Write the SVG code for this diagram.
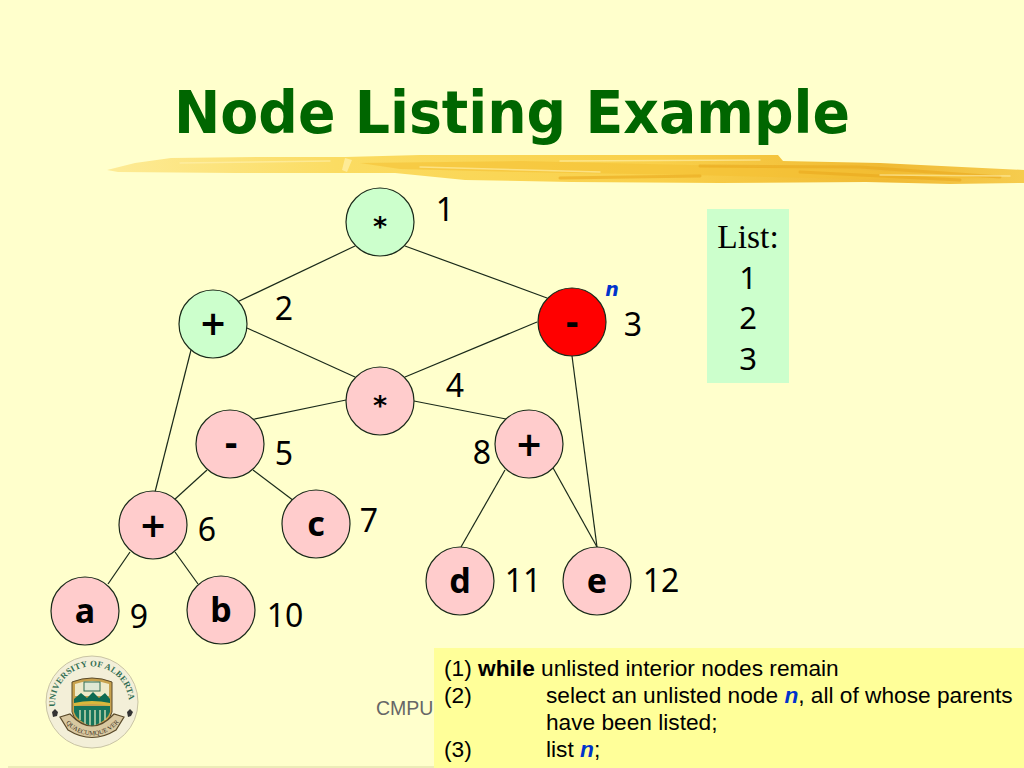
<svg xmlns="http://www.w3.org/2000/svg" xmlns:xlink="http://www.w3.org/1999/xlink" width="1024" height="768" viewBox="0 0 1024 768">
<style>
.n{stroke:#1a2a1a;stroke-width:1.2}
.g{fill:#ccffcc}.p{fill:#ffcccc}.r{fill:#ff0000}
.op{font-family:"Noto Sans",sans-serif;font-weight:700;font-size:34px;text-anchor:middle;fill:#000}
.sy{font-family:"DejaVu Sans",sans-serif;font-weight:700;font-size:33px;text-anchor:middle;fill:#000}
.st{font-family:"DejaVu Sans",sans-serif;font-weight:700;font-size:27px;text-anchor:middle;fill:#000}
.num{font-family:"Noto Sans",sans-serif;font-size:32px;text-anchor:middle;fill:#000}
.c line{stroke:#1a2a1a;stroke-width:1.2}
.t{font-family:"Liberation Sans",sans-serif;font-size:22.7px;fill:#000}
.blue{fill:#0033cc;font-weight:700;font-style:italic}
.l{font-family:"Liberation Serif",serif;font-size:33.5px;text-anchor:middle;fill:#000}
.ln{font-family:"Noto Sans",sans-serif;font-size:31px;text-anchor:middle;fill:#000}
.s{fill:none;stroke-linecap:round}
</style>
<defs>
<linearGradient id="br" x1="0" x2="1" y1="0" y2="0">
<stop offset="0" stop-color="#fdeb96"/><stop offset="0.25" stop-color="#fbdc62"/><stop offset="0.6" stop-color="#f9d04a"/><stop offset="0.85" stop-color="#f0ba34"/><stop offset="1" stop-color="#f6cc4e"/>
</linearGradient>
<path id="arcTop" d="M56 712 A37 37 0 1 1 128 712"/>
<path id="arcBot" d="M65 722 A34 34 0 0 0 119 722"/>
</defs>
<rect width="1024" height="768" fill="#ffffcc"/>
<line x1="8" y1="767" x2="1024" y2="767" stroke="#e6e6b0" stroke-width="1.5"/>

<text x="512" y="133" font-family="DejaVu Sans,sans-serif" font-weight="700" font-size="58" text-anchor="middle" fill="#006600" textLength="676" lengthAdjust="spacingAndGlyphs">Node Listing Example</text>

<g id="brush">
<path fill="url(#br)" d="M107 170 L135 163 L171 158 L260 157 L345 157 L420 155 L512 155 L640 155 L778 155 L783 161 L880 163 L1024 170 L1024 183 L950 184 L866 182 L720 183 L571 182 L465 180 L395 173 L235 173 L118 172 Z"/>
<path fill="#fff0a8" opacity="0.75" d="M345 158 L352 160 L347 172 L342 170 Z"/>
<path fill="#f4bf32" opacity="0.55" d="M360 163 L520 161 L690 165 L860 170 L1000 178 L860 179 L690 175 L520 172 L400 169 Z"/>
<path class="s" stroke="#e9a91e" stroke-width="3" opacity="0.6" d="M700 166 L860 167 L1000 177 M560 178 L700 176 M800 172 L960 180"/>
<path class="s" stroke="#fff2b0" stroke-width="1.4" opacity="0.6" d="M180 163 L330 161 M420 167 L600 172 M560 161 L760 160 M880 175 L1010 176"/>
</g>

<g id="connectors" class="c">
<line x1="355" y1="246" x2="235" y2="303"/>
<line x1="405" y1="246" x2="547" y2="298"/>
<line x1="247" y1="328" x2="355" y2="377"/>
<line x1="537" y1="322" x2="405" y2="377"/>
<line x1="572" y1="356" x2="597" y2="547"/>
<line x1="191" y1="350" x2="155" y2="492"/>
<line x1="346" y1="400" x2="250" y2="420"/>
<line x1="414" y1="401" x2="506" y2="419"/>
<line x1="207" y1="470" x2="174" y2="500"/>
<line x1="253" y1="470" x2="298" y2="504"/>
<line x1="505" y1="470" x2="461" y2="547"/>
<line x1="552" y1="466" x2="597" y2="547"/>
<line x1="130" y1="552" x2="108" y2="584"/>
<line x1="175" y1="552" x2="198" y2="584"/>
</g>

<g id="node-1"><circle class="n g" cx="380" cy="222" r="34"/><text class="st" x="380" y="236">*</text></g>
<g id="node-2"><circle class="n g" cx="213" cy="324" r="34"/><text class="sy" x="213" y="335">+</text></g>
<g id="node-3"><circle class="n r" cx="572" cy="322" r="34"/><text class="sy" x="572" y="334">-</text></g>
<g id="node-4"><circle class="n p" cx="380" cy="401" r="34"/><text class="st" x="380" y="415">*</text></g>
<g id="node-5"><circle class="n p" cx="230" cy="444" r="34"/><text class="sy" x="231" y="455">-</text></g>
<g id="node-8"><circle class="n p" cx="529" cy="444" r="34"/><text class="sy" x="529" y="456">+</text></g>
<g id="node-6"><circle class="n p" cx="153" cy="525" r="34"/><text class="sy" x="153" y="537">+</text></g>
<g id="node-7"><circle class="n p" cx="316" cy="524" r="34"/><text class="op" x="316" y="536">c</text></g>
<g id="node-9"><circle class="n p" cx="85" cy="611" r="34"/><text class="op" x="85" y="623">a</text></g>
<g id="node-10"><circle class="n p" cx="221" cy="610" r="34"/><text class="op" x="221" y="622">b</text></g>
<g id="node-11"><circle class="n p" cx="460" cy="581" r="34"/><text class="op" x="460" y="593">d</text></g>
<g id="node-12"><circle class="n p" cx="597" cy="581" r="34"/><text class="op" x="597" y="593">e</text></g>

<g id="numbers">
<text class="num" x="445" y="221">1</text>
<text class="num" x="284" y="320">2</text>
<text class="num" x="633" y="336">3</text>
<text class="num" x="455" y="397">4</text>
<text class="num" x="284" y="465">5</text>
<text class="num" x="207" y="541">6</text>
<text class="num" x="369" y="532">7</text>
<text class="num" x="482" y="464">8</text>
<text class="num" x="139" y="628">9</text>
<text class="num" x="285" y="627">10</text>
<text class="num" x="523" y="592">11</text>
<text class="num" x="661" y="592">12</text>
<text x="612" y="296" font-family="DejaVu Sans,sans-serif" font-size="19" font-weight="700" font-style="italic" fill="#0033cc" text-anchor="middle">n</text>
</g>

<g id="list">
<rect x="707" y="209" width="82" height="174" fill="#ccffcc"/>
<text class="l" x="748" y="248">List:</text>
<text class="ln" x="748" y="289">1</text>
<text class="ln" x="748" y="329">2</text>
<text class="ln" x="748" y="370">3</text>
</g>

<g id="logo">
<circle cx="92" cy="702" r="46" fill="#f3efd8" stroke="#c9c4a4"/>
<text font-family="Liberation Serif,serif" font-size="8.6" font-weight="700" fill="#2f6d52" letter-spacing="0.3"><textPath xlink:href="#arcTop" startOffset="4%">UNIVERSITY OF ALBERTA</textPath></text>
<path d="M72 682 Q92 674 112 682 L112 712 Q110 722 92 729 Q74 722 72 712 Z" fill="#c8a24e" stroke="#5a4a2a"/>
<path d="M75 684 Q92 678 109 684 L109 696 L75 696 Z" fill="#eee9c8"/>
<rect x="84" y="682" width="16" height="9" fill="#dfe8d4" stroke="#2f6d52"/>
<path d="M74 699 L81 693 L87 698 L93 692 L99 698 L105 693 L110 699 L110 703 L74 703 Z" fill="#0e6a52"/>
<path d="M74 703 Q92 699 110 703 L110 706 Q92 702 74 706 Z" fill="#d8b83c"/>
<path d="M74 706 L110 706 L110 712 Q108 720 92 727 Q76 720 74 712 Z" fill="#17745a"/>
<path d="M80 710 V720 M85 710 V724 M90 710 V726 M95 710 V726 M100 710 V724 M105 710 V720" stroke="#c8d8b0" stroke-width="1.5"/>
<path d="M60 717 L70 714 Q92 738 114 714 L124 717 L116 730 Q92 745 68 730 Z" fill="#d9c8a0" stroke="#5a4a2a" stroke-width="1.2"/>
<text font-family="Liberation Serif,serif" font-size="6.5" fill="#3a3020"><textPath xlink:href="#arcBot" startOffset="2%">QUAECUMQUE VERA</textPath></text>
<path d="M52 712 l3 -3 l3 3 l-1 4 l-4 1 Z M127 712 l3 -3 l3 3 l-2 4 l-3 1 Z" fill="#333"/>
</g>

<text x="376" y="715" font-family="Liberation Sans,sans-serif" font-size="19.5" fill="#666">CMPU</text>

<g id="algorithm">
<rect x="434" y="648" width="590" height="120" fill="#ffff99"/>
<text class="t" x="444" y="676">(1) <tspan font-weight="700">while</tspan> unlisted interior nodes remain</text>
<text class="t" x="444" y="703">(2)</text>
<text class="t" x="546" y="703">select an unlisted node <tspan class="blue">n</tspan>, all of whose parents</text>
<text class="t" x="546" y="730">have been listed;</text>
<text class="t" x="444" y="757">(3)</text>
<text class="t" x="546" y="757">list <tspan class="blue">n</tspan>;</text>
</g>
</svg>
